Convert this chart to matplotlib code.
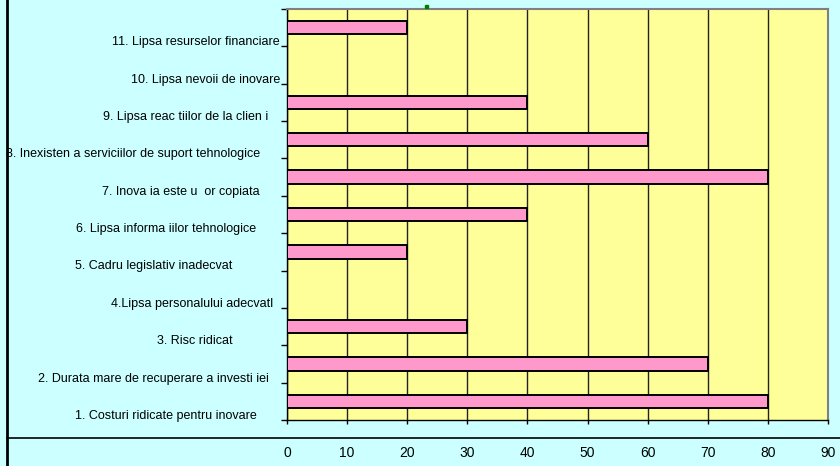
import matplotlib
matplotlib.use("Agg")
import matplotlib.pyplot as plt
import matplotlib.transforms as mtransforms
from matplotlib.lines import Line2D
from matplotlib.patches import Rectangle
import numpy as np

plt.rcParams['font.family'] = ['Liberation Sans', 'DejaVu Sans']

# categories from bottom (1) to top (11)
labels = [
    "1. Costuri ridicate pentru inovare",
    "2. Durata mare de recuperare a investi iei",
    "3. Risc ridicat",
    "4.Lipsa personalului adecvatl",
    "5. Cadru legislativ inadecvat",
    "6. Lipsa informa iilor tehnologice",
    "7. Inova ia este u  or copiata",
    "8. Inexisten a serviciilor de suport tehnologice",
    "9. Lipsa reac tiilor de la clien i",
    "10. Lipsa nevoii de inovare",
    "11. Lipsa resurselor financiare",
]
values = [80, 70, 30, 0, 20, 40, 80, 60, 40, 0, 20]
x_ticks = [0, 10, 20, 30, 40, 50, 60, 70, 80, 90]

# gap between label end and axis, in pixels (labels are not all flush)
label_pad = [30, 18, 54, 14, 55, 31, 27, 27, 19, 7, 7]

fig = plt.figure(figsize=(8.4, 4.66), dpi=100)
fig.patch.set_facecolor("#CCFFFF")
ax = fig.add_axes([287 / 840, 1 - 420 / 466, 541 / 840, 411 / 466])
ax.set_facecolor("#FFFF99")

y = np.arange(len(values))
ax.barh(y, values, height=0.36, color="#FF99CC", edgecolor="black",
        linewidth=1.4, zorder=3)

ax.set_xlim(0, 90)
ax.set_ylim(-0.5, len(values) - 0.5)
ax.set_xticks(x_ticks)
ax.set_xticklabels([str(t) for t in x_ticks], fontsize=10)
ax.xaxis.grid(True, color="#222222", linewidth=1, zorder=1)
ax.set_axisbelow(True)
ax.tick_params(axis="x", direction="out", length=3, width=1, pad=16)

ax.set_yticks(np.arange(-0.5, len(values), 1.0))
ax.set_yticklabels([])
ax.tick_params(axis="y", direction="out", length=4, width=1)

for side in ["top", "right"]:
    ax.spines[side].set_color("#808080")
    ax.spines[side].set_linewidth(1.5)
for side in ["left", "bottom"]:
    ax.spines[side].set_color("black")
    ax.spines[side].set_linewidth(1)

base = ax.get_yaxis_transform()
for i, (lab, pad) in enumerate(zip(labels, label_pad)):
    tr = mtransforms.offset_copy(base, fig=fig, x=-pad, y=0, units="dots")
    ax.text(0, i - 0.5 + 0.11, lab, transform=tr, ha="right", va="center",
            fontsize=9)

# frame lines of the chart area
fig.add_artist(Line2D([6.5 / 840, 6.5 / 840], [0, 1], color="black", lw=2))
fig.add_artist(Line2D([7 / 840, 1], [1 - 438 / 466, 1 - 438 / 466],
                      color="black", lw=1.2))
# leftover of a title marker
fig.add_artist(Rectangle((425 / 840, 1 - 8 / 466), 3 / 840, 3 / 466,
                         color="green", transform=fig.transFigure))

fig.savefig("out.png", dpi=100, facecolor=fig.get_facecolor())
